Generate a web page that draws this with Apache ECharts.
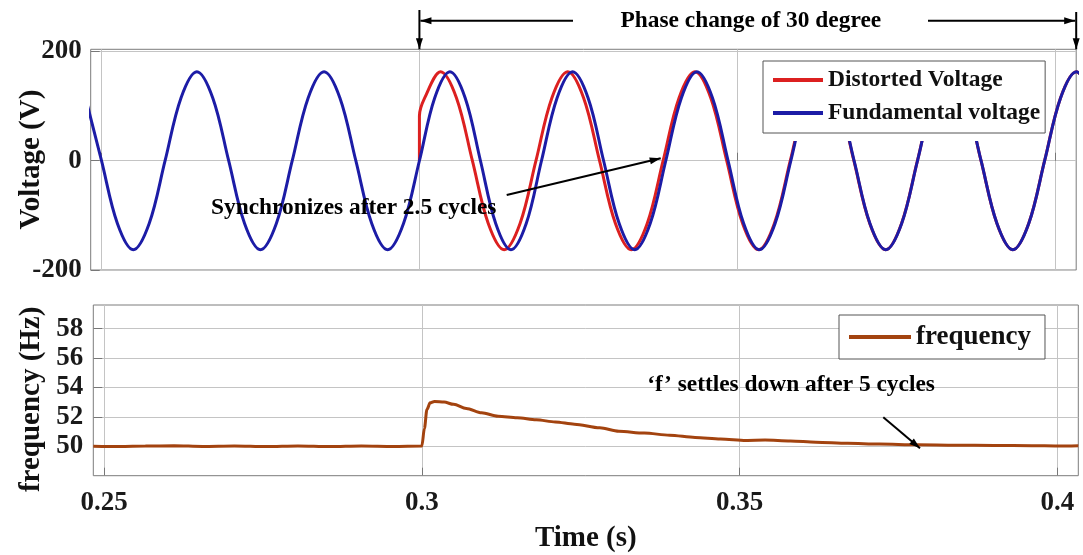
<!DOCTYPE html>
<html><head><meta charset="utf-8">
<script src="https://cdn.jsdelivr.net/npm/echarts@6/dist/echarts.min.js"></script>
<style>html,body{margin:0;padding:0;background:#fff}#c{width:1083px;height:555px}</style>
</head><body><div id="c"></div>
<script>
// ---- data ----
const blueTime = [0.2475,0.25,0.2525,0.255,0.2575,0.26,0.2625,0.265,0.2675,0.27,0.2725,0.275,0.2775,0.28,0.2825,0.285,0.2875,0.29,0.2925,0.295,0.2975,0.3,
  0.3024,0.3048,0.3072,0.3096,0.312,0.3144,0.3168,0.3192,0.32165,0.3241,0.32653,0.32897,0.33142,0.33387,0.3363,0.33875,0.3412,0.34365,0.3461,0.34855,
  0.351,0.35347,0.35594,0.35842,0.3609,0.36339,0.36588,0.36837,0.37086,0.37336,0.37585,0.37834,0.38084,0.38334,0.38584,0.38834,0.39084,0.39334,0.39584,0.39834,0.40084,0.40334,0.40584];
const blueVolt = [115,0,-115,-163,-115,0,115,163,115,0,-115,-163,-115,0,115,163,115,0,-115,-163,-115,0,
  115,163,115,0,-115,-163,-115,0,115,163,115,0,-115,-163,-115,0,115,163,115,0,
  -115,-163,-115,0,115,163,115,0,-115,-163,-115,0,115,163,115,0,-115,-163,-115,0,115,163,115];
const redTime = [0.3,0.3,0.30083,0.30333,0.30583,0.30833,0.31083,0.31333,0.31583,0.31833,0.32083,0.32333,0.32583,0.32833,0.33083,0.33333,0.33583,0.33833,
  0.34083,0.34333,0.34583,0.34833,0.35083,0.35333,0.35583,0.35833,0.36083,0.36333,0.36583,0.36833,0.37083,0.37333,0.37583,0.37833,
  0.38083,0.38333,0.38583,0.38833,0.39083,0.39333,0.39583,0.39833,0.40083,0.40333,0.40583];
const redVolt = [0,82,115,163,115,0,-115,-163,-115,0,115,163,115,0,-115,-163,-115,0,
  115,163,115,0,-115,-163,-115,0,115,163,115,0,-115,-163,-115,0,
  115,163,115,0,-115,-163,-115,0,115,163,115];
const freqTime = [0.2483,0.2525,0.2565,0.261,0.2655,0.2705,0.2755,0.2805,0.2855,0.2905,0.2955,0.3,0.3004,0.3008,0.3013,0.302,0.3035,0.305,0.307,0.3094,0.312,0.315,0.318,0.321,0.324,0.328,0.331,0.335,0.339,0.343,0.347,0.351,0.354,0.358,0.362,0.367,0.372,0.378,0.384,0.39,0.396,0.4,0.4033];
const freqHz = [50.00,49.98,50.01,50.03,49.99,50.02,49.98,50.02,49.98,50.02,49.99,50.02,51.2,52.5,52.95,53.05,53.0,52.85,52.57,52.27,52.04,51.93,51.8,51.65,51.5,51.25,51.02,50.9,50.75,50.6,50.5,50.4,50.42,50.36,50.28,50.2,50.15,50.1,50.07,50.06,50.04,50.02,50.04];
const timeTicks = [0.25, 0.3, 0.35, 0.4];
const voltTicks = [-200, 0, 200];
const freqTicks = [50, 52, 54, 56, 58];
const seriesNames = ['Distorted Voltage', 'Fundamental voltage', 'frequency'];

// ---- chart ----
const X_MIN = 0.2483, X_MAX = 0.4033;
const V_MIN = -200, V_MAX = 204;
const F_MIN = 48, F_MAX = 59.6;
const FONT = '"Liberation Serif", "Times New Roman", serif';
const RED = '#dc2020', BLUE = '#1c1ca6', BROWN = '#a3430f';
const zip = (a, b) => a.map((x, i) => [x, b[i]]);

const chart = echarts.init(document.getElementById('c'), null, {renderer: 'canvas'});

const gridCommon = {show: true, borderColor: '#7c7c7c', borderWidth: 1, backgroundColor: '#fff', containLabel: false, outerBoundsMode: 'none'};
const splitLine = {show: true, lineStyle: {color: '#c4c4c4', width: 1}};
const tickLabel = {fontFamily: FONT, fontWeight: 'bold', fontSize: 27, color: '#1a1a1a'};

function xAx(gridIndex, labels) {
  return {
    type: 'value', gridIndex, min: X_MIN, max: X_MAX,
    axisLine: {show: false},
    axisTick: {show: true, inside: true, length: 8, lineStyle: {color: '#777'}, customValues: timeTicks},
    axisLabel: Object.assign({show: labels, customValues: timeTicks, margin: 14, formatter: v => String(v)}, tickLabel),
    splitLine
  };
}

const option = {
  animation: false,
  backgroundColor: '#fff',
  grid: [
    Object.assign({left: 90.7, top: 49.3, width: 985.5, height: 220.7}, gridCommon),
    Object.assign({left: 93.3, top: 305, width: 985, height: 170.7}, gridCommon)
  ],
  xAxis: [
    xAx(0, false),
    Object.assign(xAx(1, true), {
      name: 'Time (s)', nameLocation: 'middle', nameGap: 48, nameMoveOverlap: false,
      nameTextStyle: {fontFamily: FONT, fontWeight: 'bold', fontSize: 29, color: '#111'}
    })
  ],
  yAxis: [
    {
      type: 'value', gridIndex: 0, min: V_MIN, max: V_MAX, interval: 200,
      axisLine: {show: false},
      axisTick: {show: true, inside: true, length: 9, lineStyle: {color: '#777'}, customValues: voltTicks},
      axisLabel: Object.assign({customValues: voltTicks, margin: 9}, tickLabel),
      splitLine,
      name: 'Voltage (V)', nameLocation: 'middle', nameGap: 45, nameMoveOverlap: false,
      nameTextStyle: {fontFamily: FONT, fontWeight: 'bold', fontSize: 29, color: '#111'}
    },
    {
      type: 'value', gridIndex: 1, min: F_MIN, max: F_MAX, interval: 2,
      axisLine: {show: false},
      axisTick: {show: true, inside: true, length: 9, lineStyle: {color: '#777'}, customValues: freqTicks},
      axisLabel: Object.assign({customValues: freqTicks, margin: 10}, tickLabel),
      splitLine,
      name: 'frequency (Hz)', nameLocation: 'middle', nameGap: 47.5, nameMoveOverlap: false,
      nameTextStyle: {fontFamily: FONT, fontWeight: 'bold', fontSize: 29, color: '#111', padding: [0, 18, 0, 0]}
    }
  ],
  legend: [
    {
      data: [seriesNames[0], seriesNames[1]], orient: 'vertical', left: 763, top: 61,
      icon: 'rect', itemWidth: 50, itemHeight: 4, itemGap: 7,
      backgroundColor: '#fff', borderColor: '#555', borderWidth: 1, padding: [6, 5, 7, 10],
      textStyle: {fontFamily: FONT, fontWeight: 'bold', fontSize: 23.5, color: '#111', lineHeight: 26},
      selectedMode: false, z: 8
    },
    {
      data: [seriesNames[2]], orient: 'vertical', left: 839, top: 315,
      icon: 'rect', itemWidth: 62, itemHeight: 4,
      backgroundColor: '#fff', borderColor: '#555', borderWidth: 1, padding: [7, 14, 7, 10],
      textStyle: {fontFamily: FONT, fontWeight: 'bold', fontSize: 27, color: '#111', lineHeight: 30},
      selectedMode: false, z: 8
    }
  ],
  series: [
    {name: seriesNames[0], type: 'line', xAxisIndex: 0, yAxisIndex: 0, data: zip(redTime, redVolt),
     showSymbol: false, smooth: 0.35, lineStyle: {color: RED, width: 3}, itemStyle: {color: RED}, z: 2},
    {name: seriesNames[1], type: 'line', xAxisIndex: 0, yAxisIndex: 0, data: zip(blueTime, blueVolt),
     showSymbol: false, smooth: 0.35, lineStyle: {color: BLUE, width: 3}, itemStyle: {color: BLUE}, z: 2},
    {name: seriesNames[2], type: 'line', xAxisIndex: 1, yAxisIndex: 1, data: zip(freqTime, freqHz),
     showSymbol: false, smooth: 0.3, smoothMonotone: 'x', lineStyle: {color: BROWN, width: 3}, itemStyle: {color: BROWN}}
  ]
};
chart.setOption(option);

// ---- annotations ----
const x03 = chart.convertToPixel({xAxisIndex: 0}, 0.3);
const xR = chart.convertToPixel({xAxisIndex: 0}, X_MAX);
const yFrame = chart.convertToPixel({yAxisIndex: 0}, V_MAX);
const annFont = 'bold 23.4px ' + FONT;
const G = [];
function seg(x1, y1, x2, y2, w) {
  G.push({type: 'line', shape: {x1, y1, x2, y2}, style: {stroke: '#000', lineWidth: w || 2}, z: 10});
}
function head(x1, y1, x2, y2, len, half) {
  const dx = x2 - x1, dy = y2 - y1, L = Math.hypot(dx, dy), ux = dx / L, uy = dy / L;
  const bx = x2 - ux * len, by = y2 - uy * len;
  G.push({type: 'polygon', shape: {points: [[x2, y2], [bx - uy * half, by + ux * half], [bx + uy * half, by - ux * half]]},
          style: {fill: '#000'}, z: 10});
}
function arrow(x1, y1, x2, y2) { seg(x1, y1, x2, y2, 2); head(x1, y1, x2, y2, 11, 3.5); }
function text(t, x, y) {
  G.push({type: 'text', x, y, style: {text: t, font: annFont, fill: '#000', align: 'center', verticalAlign: 'middle'}, z: 10});
}
// mask under the voltage legend (reference hides the waves there)
G.push({type: 'rect', shape: {x: 760, y: yFrame + 4, width: 287, height: 141 - yFrame - 4}, style: {fill: '#fff'}, z: 3});
const yA = 20.7;
arrow(x03, 10, x03, yFrame);
arrow(573, yA, x03 + 1, yA);
arrow(xR, 12, xR, yFrame);
arrow(928, yA, xR - 1, yA);
text('Phase change of 30 degree', 750.8, yA);
text('Synchronizes after 2.5 cycles', 353.7, 207.5);
arrow(506.7, 195, 660.7, 158.3);
text('\u2018f\u2019 settles down after 5 cycles', 791, 385);
arrow(883.3, 417.3, 920, 448.3);
chart.setOption({graphic: {elements: G}});
</script>
</body></html>
